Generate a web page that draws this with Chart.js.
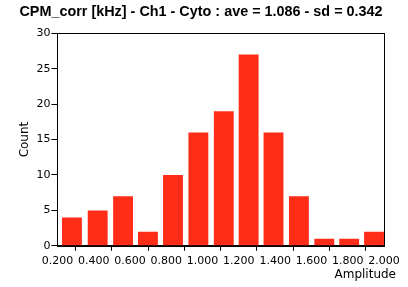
<!DOCTYPE html>
<html>
<head>
<meta charset="utf-8">
<script src="https://cdn.jsdelivr.net/npm/chart.js@4"></script>
<style>
  html, body { margin: 0; padding: 0; background: #fff; }
  #wrap { width: 408px; height: 287px; }
</style>
</head>
<body>
<div id="wrap"><canvas id="hist"></canvas></div>
<script>
// bin centres (Amplitude) and counts
var binCenters = [0.280, 0.422, 0.562, 0.699, 0.837, 0.977, 1.117, 1.254, 1.391, 1.531, 1.671, 1.808, 1.945];
var counts = [4, 5, 7, 2, 10, 16, 19, 27, 16, 7, 1, 1, 2];
var xTicks = [0.2, 0.4, 0.6, 0.8, 1.0, 1.2, 1.4, 1.6, 1.8, 2.0];
var yTicks = [0, 5, 10, 15, 20, 25, 30];

var points = [];
for (var i = 0; i < counts.length; i++) {
  points.push({ x: binCenters[i], y: counts[i] });
}

// black frame round the plot area, x title hangs past the right edge
var frame = {
  id: 'frame',
  afterDraw: function(chart) {
    var a = chart.chartArea, ctx = chart.ctx;
    ctx.save();
    ctx.strokeStyle = '#000';
    ctx.lineWidth = 1;
    ctx.strokeRect(Math.round(a.left) + 0.5, Math.round(a.top) + 0.5,
      Math.round(a.right - a.left), Math.round(a.bottom - a.top));
    ctx.fillStyle = '#000';
    ctx.font = '12px "DejaVu Sans"';
    ctx.textAlign = 'right';
    ctx.textBaseline = 'middle';
    ctx.fillText('Amplitude', a.right + 12, chart.height - 12);
    ctx.restore();
  }
};

var ctx = document.getElementById('hist').getContext('2d');
window.myHist = new Chart(ctx, {
  type: 'bar',
  data: {
    datasets: [{
      label: 'Count',
      data: points,
      backgroundColor: '#ff2d17',
      borderWidth: 0,
      barPercentage: 0.8,
      categoryPercentage: 1.0
    }]
  },
  options: {
    responsive: true,
    maintainAspectRatio: false,
    animation: false,
    layout: { padding: { left: 18, right: 24, top: 0, bottom: 15 } },
    plugins: {
      legend: { display: false },
      tooltip: { enabled: false },
      title: {
        display: true,
        text: 'CPM_corr [kHz] - Ch1 - Cyto : ave = 1.086 - sd = 0.342',
        color: '#000',
        font: { family: 'Liberation Sans', size: 14.4, weight: 'bold' },
        padding: { top: 3, bottom: 13 }
      }
    },
    scales: {
      x: {
        type: 'linear',
        min: 0.2,
        max: 2.0,
        offset: false,
        afterBuildTicks: function(axis) {
          axis.ticks = xTicks.map(function(v) { return { value: v }; });
        },
        ticks: {
          color: '#000',
          font: { family: 'DejaVu Sans', size: 11 },
          maxRotation: 0,
          padding: 4,
          callback: function(v) { return Number(v).toFixed(3); }
        },
        grid: { drawOnChartArea: false, color: '#000', tickLength: 5 },
        border: { color: '#000' }
      },
      y: {
        min: 0,
        max: 30,
        afterBuildTicks: function(axis) {
          axis.ticks = yTicks.map(function(v) { return { value: v }; });
        },
        ticks: {
          color: '#000',
          font: { family: 'DejaVu Sans', size: 11 },
          padding: 1
        },
        grid: { drawOnChartArea: false, color: '#000', tickLength: 6 },
        border: { color: '#000' },
        title: {
          display: true,
          text: 'Count',
          color: '#000',
          font: { family: 'DejaVu Sans', size: 12 },
          padding: { top: 0, bottom: 3 }
        }
      }
    }
  },
  plugins: [frame]
});
</script>
</body>
</html>
